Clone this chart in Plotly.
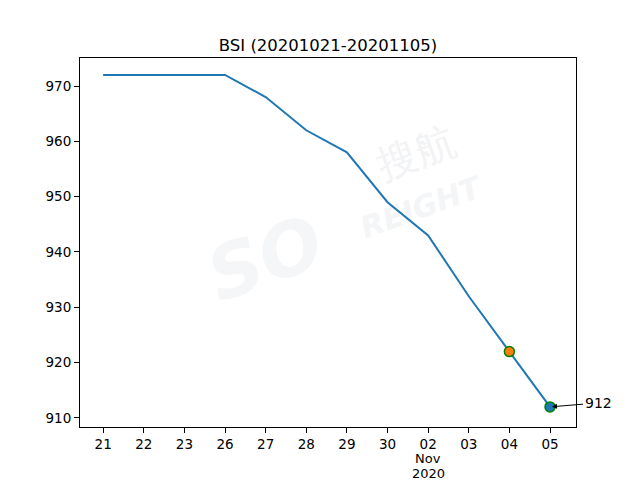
import plotly.graph_objects as go

dates = ["21", "22", "23", "26", "27", "28", "29", "30", "02", "03", "04", "05"]
month_label = "Nov"
year_label = "2020"
month_start_idx = 8
values = [972, 972, 972, 972, 968, 962, 958, 949, 943, 932, 922, 912]
yticks = [910, 920, 930, 940, 950, 960, 970]

idx = list(range(len(dates)))

fig = go.Figure()
fig.add_trace(go.Scatter(x=idx, y=values, mode="lines",
                         line=dict(color="#1f77b4", width=2), showlegend=False))
fig.add_trace(go.Scatter(x=[idx[-2]], y=[values[-2]], mode="markers",
                         marker=dict(color="#ff7f0e", size=10, line=dict(color="green", width=1.5)),
                         showlegend=False))
fig.add_trace(go.Scatter(x=[idx[-1]], y=[values[-1]], mode="markers",
                         marker=dict(color="#1f77b4", size=10, line=dict(color="green", width=1.5)),
                         showlegend=False))

fig.add_annotation(x=idx[-1], y=values[-1], text=str(values[-1]), showarrow=True,
                   ax=48, ay=-4, arrowhead=2, arrowsize=1, arrowwidth=1, arrowcolor="black",
                   standoff=2, font=dict(size=14, color="black", family="DejaVu Sans"))

# month / year sub-labels under the "02" tick
for txt, yp in [(month_label, -0.086), (year_label, -0.125)]:
    fig.add_annotation(x=idx[month_start_idx], y=yp, xref="x", yref="paper", text=txt,
                       showarrow=False, xanchor="center", yanchor="middle",
                       font=dict(size=13, color="black", family="DejaVu Sans"))

# very faint watermark, drawn below the data
wm = [("搜航", 0.675, 0.75, 40, "#f2f3f5"),
      ("<i><b>REIGHT</b></i>", 0.685, 0.60, 30, "#f4f5f7"),
      ("<i><b>SO</b></i>", 0.37, 0.47, 74, "#f5f6f7")]
for txt, xp, yp, sz, col in wm:
    fig.add_shape(type="rect", xref="paper", yref="paper",
                  x0=xp - 0.01, x1=xp + 0.01, y0=yp - 0.01, y1=yp + 0.01,
                  line=dict(width=0), fillcolor="rgba(0,0,0,0)", layer="below",
                  label=dict(text=txt, textangle=-20, textposition="middle center",
                             font=dict(size=sz, color=col, family="DejaVu Sans")))

axis_common = dict(showline=True, linecolor="black", linewidth=1, mirror=True,
                   ticks="outside", ticklen=5, tickcolor="black", showgrid=False,
                   zeroline=False, automargin=False,
                   tickfont=dict(size=13.5, color="black", family="DejaVu Sans"))

fig.update_xaxes(range=[-0.57, 11.64], tickvals=idx, ticktext=dates, **axis_common)
fig.update_yaxes(range=[908.37, 975.06], tickvals=yticks, **axis_common)

fig.update_layout(
    width=640, height=480,
    margin=dict(l=80, r=64, t=58, b=53, autoexpand=False),
    paper_bgcolor="white", plot_bgcolor="white",
    title=dict(text="BSI (20201021-20201105)", xref="paper", x=0.5, xanchor="center",
               y=0.893, yanchor="bottom",
               font=dict(size=16.5, color="black", family="DejaVu Sans")),
    font=dict(family="DejaVu Sans", color="black"),
)

fig.write_html("out.html", config={"displayModeBar": False},
               post_script="document.body.style.margin='0';document.body.style.padding='0';")
